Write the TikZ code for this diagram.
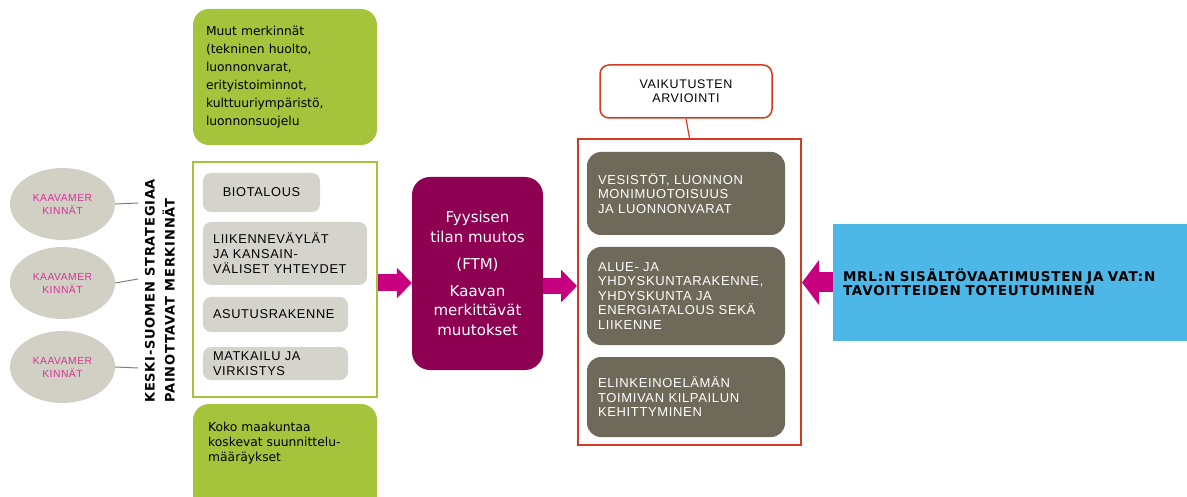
\documentclass[tikz,border=0pt]{standalone}
\usepackage{fontspec}
\setmainfont{DejaVu Sans}
\newfontfamily\arialfont[LetterSpace=5.0]{Liberation Sans}
\newfontfamily\leveafont[LetterSpace=6.0]{DejaVu Sans}
\usetikzlibrary{arrows.meta}
\usetikzlibrary{shapes.geometric}
\definecolor{lehti}{HTML}{A5C43C}
\definecolor{harmaa}{HTML}{D5D4CC}
\definecolor{soikio}{HTML}{D2CFC5}
\definecolor{soikio_text}{HTML}{D63296}
\definecolor{nuoli}{HTML}{C6007E}
\definecolor{violetti}{HTML}{8D0052}
\definecolor{punainen}{HTML}{D23B1F}
\definecolor{oliivi}{HTML}{6E6958}
\definecolor{taivas}{HTML}{4DB8E8}
\definecolor{viiva}{HTML}{808080}

\begin{document}
\begin{tikzpicture}[x=1pt, y=-1pt,
    lehtinode/.style={shape=rectangle, rounded corners=16pt, fill=lehti, inner xsep=13pt, align=left, font=\fontsize{12.3}{18}\selectfont},
    harmaanode/.style={shape=rectangle, rounded corners=8pt, fill=harmaa, inner xsep=10pt, align=left, font=\arialfont\fontsize{12.8}{15}\selectfont},
    soikionode/.style={shape=ellipse, fill=soikio, inner sep=0pt, minimum width=105pt, minimum height=72pt, align=center, text=soikio_text, font=\arialfont\fontsize{10.3}{13}\selectfont},
    oliivinode/.style={shape=rectangle, rounded corners=14pt, fill=oliivi, inner xsep=11pt, minimum width=198pt, text width=176pt, align=left, text=white, font=\arialfont\fontsize{13}{14.5}\selectfont},
    isonuoli/.style={draw=nuoli, line width=17pt}
]
\useasboundingbox (0,0) rectangle (1187,497);

% Coordinates
\coordinate (v1) at (138,203);
\coordinate (v2) at (138,279);
\coordinate (v3) at (138,368);

% Boxes

% left side
\node[soikionode] (kaava1) at (62.5,204) {KAAVAMER\\KINNÄT};
\node[soikionode] (kaava2) at (62.5,283) {KAAVAMER\\KINNÄT};
\node[soikionode] (kaava3) at (62.5,367) {KAAVAMER\\KINNÄT};
\node[rotate=90, anchor=west, inner sep=0pt, align=left, font=\leveafont\bfseries\fontsize{13}{20}\selectfont] (strategia) at (160,403)
  {KESKI-SUOMEN STRATEGIAA\\PAINOTTAVAT MERKINNÄT};

% green
\node[lehtinode, minimum width=184pt, minimum height=136pt, text width=158pt] (muut) at (285,77)
  {Muut merkinnät\\(tekninen huolto,\\luonnonvarat,\\erityistoiminnot,\\kulttuuriympäristö,\\luonnonsuojelu};
\node[draw=lehti, line width=1.5pt, minimum width=184pt, minimum height=235pt] (rajaus) at (285,279.5) {};
\node[harmaanode, minimum width=117pt, minimum height=39pt, align=center] (bio) at (261.5,192.5) {BIOTALOUS};
\node[harmaanode, minimum width=164pt, minimum height=63pt, text width=144pt] (liikenne) at (285,253.5)
  {LIIKENNEVÄYLÄT\\JA KANSAIN-\\VÄLISET YHTEYDET};
\node[harmaanode, minimum width=145pt, minimum height=35pt, text width=125pt] (asutus) at (275.5,314.5) {ASUTUSRAKENNE};
\node[harmaanode, minimum width=145pt, minimum height=33pt, text width=125pt] (matkailu) at (275.5,363.5) {MATKAILU JA\\VIRKISTYS};
\node[lehtinode, minimum width=184pt, minimum height=111pt] (koko) at (285,459.5) {};
\node[anchor=west, inner sep=0pt, align=left, font=\fontsize{12.3}{15}\selectfont] (kokoteksti) at (208,443)
  {Koko maakuntaa\\koskevat suunnittelu-\\määräykset};

% middle
\node[shape=rectangle, rounded corners=18pt, fill=violetti, minimum width=131pt, minimum height=193pt, align=center, text=white, font=\fontsize{15}{19.5}\selectfont] (ftm) at (477.5,273.5)
  {Fyysisen\\tilan muutos\\[8pt](FTM)\\[7pt]Kaavan\\merkittävät\\muutokset};

% vaikutukset
\node[draw=punainen, line width=1.5pt, rounded corners=9pt, fill=white, minimum width=172pt, minimum height=53pt, align=center, font=\arialfont\fontsize{12.5}{14}\selectfont] (arviointi) at (686,91.5)
  {VAIKUTUSTEN\\ARVIOINTI};
\node[draw=punainen, line width=2pt, minimum width=223pt, minimum height=306pt] (vaikutus) at (689.5,292) {};
\node[oliivinode, minimum height=83pt] (vesi) at (686,193.5)
  {VESISTÖT, LUONNON\\MONIMUOTOISUUS\\JA LUONNONVARAT};
\node[oliivinode, minimum height=98pt] (alue) at (686,296)
  {ALUE- JA\\YHDYSKUNTARAKENNE,\\YHDYSKUNTA JA\\ENERGIATALOUS SEKÄ\\LIIKENNE};
\node[oliivinode, minimum height=80pt] (elinkeino) at (686,397)
  {ELINKEINOELÄMÄN\\TOIMIVAN KILPAILUN\\KEHITTYMINEN};

% right
\node[fill=taivas, minimum width=362pt, minimum height=117pt, inner xsep=10pt, text width=342pt, align=left, font=\leveafont\bfseries\fontsize{13.5}{14}\selectfont] (mrl) at (1014,282.5)
  {MRL:N SISÄLTÖVAATIMUSTEN JA VAT:N\\TAVOITTEIDEN TOTEUTUMINEN};

% Arrows
\draw[viiva, line width=1pt] (kaava1.east) -- (v1);
\draw[viiva, line width=1pt] (kaava2.east) -- (v2);
\draw[viiva, line width=1pt] (kaava3.east) -- (v3);
\draw[punainen, line width=1.2pt] (arviointi.south) -- (vaikutus.north);

\draw[isonuoli, -{Triangle[length=15pt, width=30pt]}] ([yshift=-3.5pt]rajaus.east) -- ([yshift=-9.5pt]ftm.west);
\draw[isonuoli, line width=16pt, -{Triangle[length=16pt, width=32pt]}] ([yshift=-12.5pt]ftm.east) -- ([yshift=6pt]vaikutus.west);
\draw[isonuoli, line width=20pt, -{Triangle[length=17pt, width=44pt]}] (mrl.west) -- ([yshift=9.5pt]vaikutus.east);

\end{tikzpicture}
\end{document}
